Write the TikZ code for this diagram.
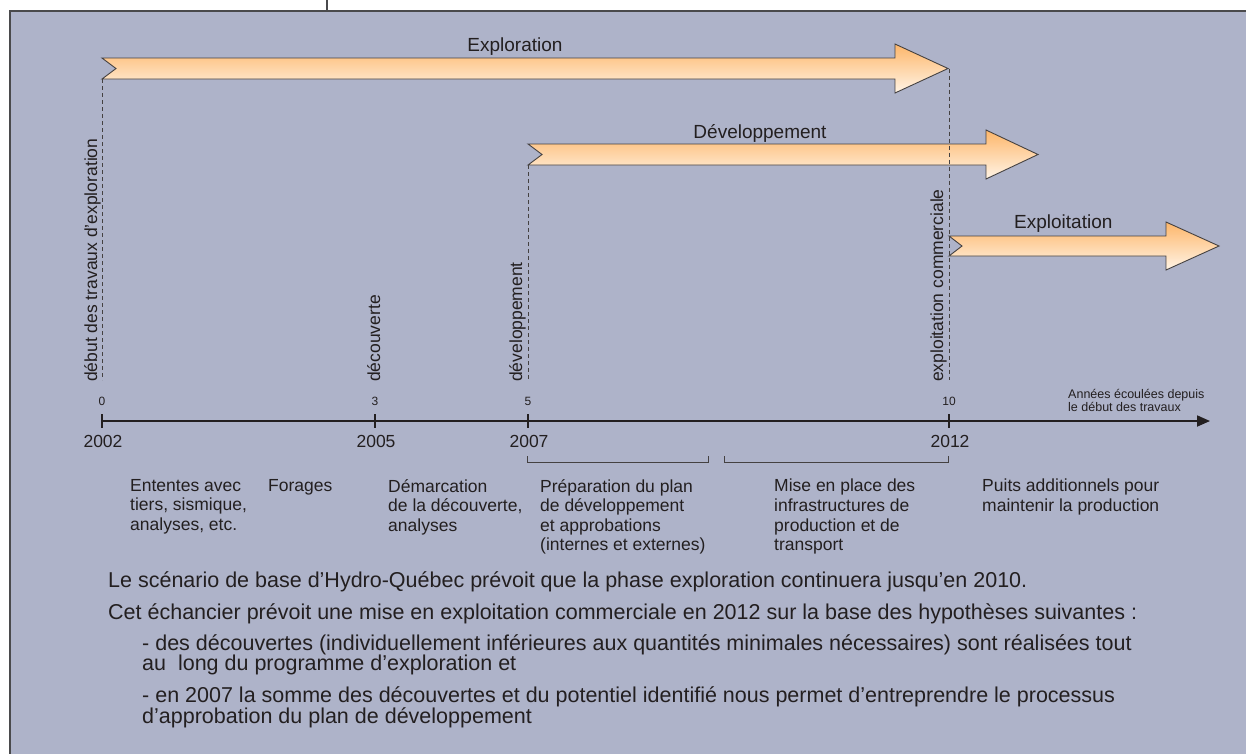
\documentclass[tikz,border=0pt]{standalone}
\usepackage{fontspec}
\setmainfont{Liberation Sans}
\usetikzlibrary{arrows.meta}
\definecolor{bg}{HTML}{AEB3C9}
\definecolor{ink}{HTML}{231F20}
\definecolor{frameline}{HTML}{4A4A4C}
\definecolor{arrtop}{HTML}{FDB66A}
\definecolor{arrbot}{HTML}{FFF4E6}
\begin{document}
\begin{tikzpicture}[x=1pt,y=-1pt,
  lbl/.style={inner sep=0pt, text=ink, font=\fontsize{17.5}{19.6}\selectfont},
  desc/.style={lbl, align=left, anchor=north west},
  vlbl/.style={lbl, rotate=90, anchor=base west},
  ttl/.style={inner sep=0pt, text=ink, font=\fontsize{19}{22}\selectfont, anchor=base},
  tnum/.style={inner sep=0pt, text=ink, font=\fontsize{12}{13}\selectfont},
  para/.style={inner sep=0pt, text=ink, font=\fontsize{21.5}{20.2}\selectfont, align=left, anchor=base west},
  bigarrow/.style={top color=arrtop, bottom color=arrbot, draw=ink!85, line width=0.9pt, line join=miter},
  dashline/.style={draw=ink!85, line width=0.9pt, dash pattern=on 4pt off 3pt},
  tickline/.style={draw=ink, line width=1.6pt},
  bracket/.style={draw=ink!85, line width=0.9pt}
]
\clip (0,0) rectangle (1246,753);
\useasboundingbox (0,0) rectangle (1246,753);
% background frame
\fill[bg] (10,11) rectangle (1270,780);
\draw[frameline, line width=1.6pt] (1270,11) -- (10,11) -- (10,780);
\coordinate (topA) at (327,0);
\coordinate (topB) at (327,11);
\draw[frameline, line width=1.4pt] (topA) -- (topB);

% phase arrows
\shade[bigarrow] (102,58) -- (116,68.5) -- (102,79) -- (895,79) -- (895,93) -- (948,68.5) -- (895,44) -- (895,58) -- cycle;
\shade[bigarrow] (528,144) -- (542,154.5) -- (528,165) -- (986,165) -- (986,179) -- (1038,154.5) -- (986,130) -- (986,144) -- cycle;
\shade[bigarrow] (949,236) -- (962,246) -- (949,256) -- (1166,256) -- (1166,270) -- (1219,246) -- (1166,222) -- (1166,236) -- cycle;
\node[ttl] (exploration) at (515,51) {Exploration};
\node[ttl] (developpement) at (760,138) {Développement};
\node[ttl, anchor=base west] (exploitation) at (1014,228) {Exploitation};

% milestone coordinates
\coordinate (m0top) at (102,79);
\coordinate (m0bot) at (102,380);
\coordinate (m5top) at (528,165);
\coordinate (m5bot) at (528,380);
\coordinate (m10top) at (949,68.5);
\coordinate (m10bot) at (949,380);
\draw[dashline] (m0top) -- (m0bot);
\draw[dashline] (m5top) -- (m5bot);
\draw[dashline] (m10top) -- (m10bot);

\node[vlbl] (v0) at (97,382) {début des travaux d’exploration};
\node[vlbl] (v3) at (380,382) {découverte};
\node[vlbl] (v5) at (522,382) {développement};
\node[vlbl] (v10) at (943,382) {exploitation commerciale};

% axis
\coordinate (axS) at (102,421);
\coordinate (axE) at (1210,421);
\draw[draw=ink, line width=1.8pt, -{Triangle[length=13pt,width=11pt]}] (axS) -- (axE);
\foreach \xx/\nn/\yy in {102/0/2002, 375/3/2005, 528/5/2007, 949/10/2012}{
  \draw[tickline] (\xx,414) -- (\xx,428);
  \node[tnum] (n\nn) at (\xx,401) {\nn};
  \node[lbl] (y\yy) at (\xx+1,441) {\yy};
}
\node[inner sep=0pt, text=ink, font=\fontsize{12.5}{13}\selectfont, align=left, anchor=north west] (axlbl) at (1068,389) {Années écoulées depuis\\le début des travaux};

% brackets
\draw[bracket] (527,456) -- (527,462) -- (708,462) -- (708,456);
\draw[bracket] (724,456) -- (724,462) -- (948,462) -- (948,456);

% descriptions
\node[desc] (d1) at (130,479) {Ententes avec\\tiers, sismique,\\analyses, etc.};
\node[desc] (d2) at (268,479) {Forages};
\node[desc] (d3) at (388,479) {Démarcation\\de la découverte,\\analyses};
\node[desc] (d4) at (540,479) {Préparation du plan\\de développement\\et approbations\\(internes et externes)};
\node[desc] (d5) at (774,479) {Mise en place des\\infrastructures de\\production et de\\transport};
\node[desc] (d6) at (982,479) {Puits additionnels pour\\maintenir la production};

% bottom paragraphs
\node[para] (p1) at (108,587) {Le scénario de base d’Hydro-Québec prévoit que la phase exploration continuera jusqu’en 2010.};
\node[para] (p2) at (108,619) {Cet échancier prévoit une mise en exploitation commerciale en 2012 sur la base des hypothèses suivantes :};
\node[para, anchor=north west] (p3) at (142,634.5) {- des découvertes (individuellement inférieures aux quantités minimales nécessaires) sont réalisées tout\\au\ \ long du programme d’exploration et};
\node[para, anchor=north west] (p4) at (142,686.5) {- en 2007 la somme des découvertes et du potentiel identifié nous permet d’entreprendre le processus\\d’approbation du plan de développement};
\end{tikzpicture}
\end{document}
